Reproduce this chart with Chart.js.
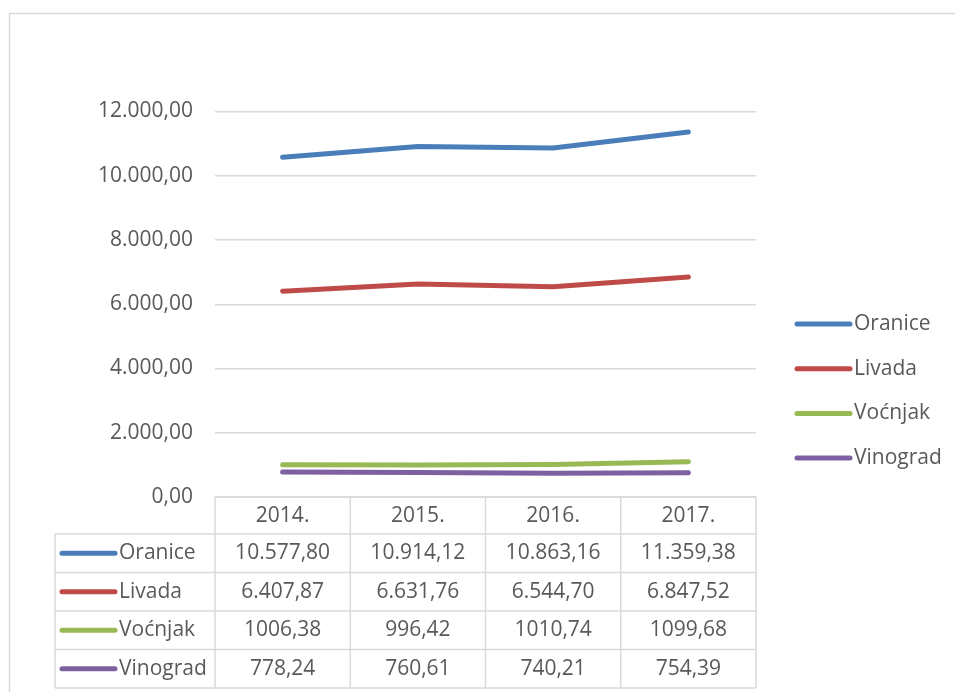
<!DOCTYPE html>
<html>
<head>
<meta charset="utf-8">
<script src="https://cdn.jsdelivr.net/npm/chart.js@4"></script>
<style>
  html, body { margin: 0; padding: 0; background: #fff; }
  #wrap { width: 955px; height: 692px; }
</style>
</head>
<body>
<div id="wrap"><canvas id="chart" width="955" height="692"></canvas></div>
<script>
const years = ["2014.", "2015.", "2016.", "2017."];
const seriesNames = ["Oranice", "Livada", "Voćnjak", "Vinograd"];
const oranice = [10577.80, 10914.12, 10863.16, 11359.38];
const livada = [6407.87, 6631.76, 6544.70, 6847.52];
const vocnjak = [1006.38, 996.42, 1010.74, 1099.68];
const vinograd = [778.24, 760.61, 740.21, 754.39];
// the table shows the last two rows without thousands separator
const tableGrouping = [true, true, false, false];
const yTicks = [0, 2000, 4000, 6000, 8000, 10000, 12000];

const colors = ["#4a7ebb", "#be4b48", "#98b954", "#7d60a0"];
const textColor = "#595959";
const lineGray = "#d9d9d9";
const font = "21px 'Open Sans'";

function fmt(v, group) {
    const parts = v.toFixed(2).split(".");
    let int = parts[0];
    if (group) int = int.replace(/\B(?=(\d{3})+(?!\d))/g, ".");
    return int + "," + parts[1];
}

// frame, data table under the x axis and legend on the right
const tablePlugin = {
    id: "tablePlugin",
    afterDraw(chart) {
        const ctx = chart.ctx;
        const area = chart.chartArea;
        const x = chart.scales.x;
        const series = chart.data.datasets;

        const headTop = area.bottom;
        const headBottom = headTop + 37;
        const rowH = 38.5;
        const tableBottom = headBottom + rowH * series.length;
        const keyLeft = 55;

        const bounds = [area.left];
        for (let i = 0; i < years.length - 1; i++) {
            bounds.push((x.getPixelForValue(i) + x.getPixelForValue(i + 1)) / 2);
        }
        bounds.push(area.right);

        ctx.save();
        // outer frame
        ctx.strokeStyle = lineGray;
        ctx.lineWidth = 1.5;
        ctx.beginPath();
        ctx.moveTo(9.5, 692);
        ctx.lineTo(9.5, 13.5);
        ctx.lineTo(955, 13.5);
        ctx.stroke();

        // table grid
        ctx.beginPath();
        ctx.moveTo(area.left, headTop);
        ctx.lineTo(area.right, headTop);
        for (let r = 0; r <= series.length; r++) {
            const y = headBottom + r * rowH;
            ctx.moveTo(keyLeft, y);
            ctx.lineTo(area.right, y);
        }
        ctx.moveTo(keyLeft, headBottom);
        ctx.lineTo(keyLeft, tableBottom);
        bounds.forEach(b => {
            ctx.moveTo(b, headTop);
            ctx.lineTo(b, tableBottom);
        });
        ctx.stroke();

        ctx.font = font;
        ctx.fillStyle = textColor;
        ctx.textBaseline = "middle";

        // header
        ctx.textAlign = "center";
        years.forEach((yr, i) => {
            ctx.fillText(yr, x.getPixelForValue(i), (headTop + headBottom) / 2 + 1);
        });

        // rows
        series.forEach((ds, r) => {
            const cy = headBottom + r * rowH + rowH / 2;
            ctx.strokeStyle = ds.borderColor;
            ctx.lineWidth = 5;
            ctx.lineCap = "round";
            ctx.beginPath();
            ctx.moveTo(62, cy);
            ctx.lineTo(115, cy);
            ctx.stroke();
            ctx.textAlign = "left";
            ctx.fillText(ds.label, 119, cy);
            ctx.textAlign = "center";
            ds.data.forEach((v, i) => {
                ctx.fillText(fmt(v, tableGrouping[r]), x.getPixelForValue(i), cy);
            });
        });

        // legend
        series.forEach((ds, r) => {
            const cy = 324 + r * 44.7;
            ctx.strokeStyle = ds.borderColor;
            ctx.lineWidth = 5;
            ctx.lineCap = "round";
            ctx.beginPath();
            ctx.moveTo(797, cy);
            ctx.lineTo(850, cy);
            ctx.stroke();
            ctx.textAlign = "left";
            ctx.fillText(ds.label, 854, cy);
        });
        ctx.restore();
    }
};

const values = [oranice, livada, vocnjak, vinograd];

new Chart(document.getElementById("chart"), {
    type: "line",
    data: {
        labels: years,
        datasets: seriesNames.map((name, i) => ({
            label: name,
            data: values[i],
            borderColor: colors[i],
            backgroundColor: colors[i],
            borderWidth: 5,
            borderCapStyle: "round",
            borderJoinStyle: "round",
            pointRadius: 0,
            tension: 0,
            fill: false
        }))
    },
    options: {
        responsive: false,
        animation: false,
        layout: {
            padding: { left: 0, top: 111.5, right: 199, bottom: 195 }
        },
        plugins: {
            legend: { display: false },
            tooltip: { enabled: false }
        },
        scales: {
            x: {
                display: false,
                offset: true
            },
            y: {
                min: 0,
                max: 12000,
                afterFit(scale) { scale.width = 215; },
                afterBuildTicks(scale) { scale.ticks = yTicks.map(v => ({ value: v })); },
                border: { display: false },
                grid: { color: lineGray, lineWidth: 1.5, drawTicks: false },
                ticks: {
                    padding: 22,
                    color: textColor,
                    font: { family: "'Open Sans'", size: 21 },
                    callback: v => fmt(v, true)
                }
            }
        }
    },
    plugins: [tablePlugin]
});
</script>
</body>
</html>
